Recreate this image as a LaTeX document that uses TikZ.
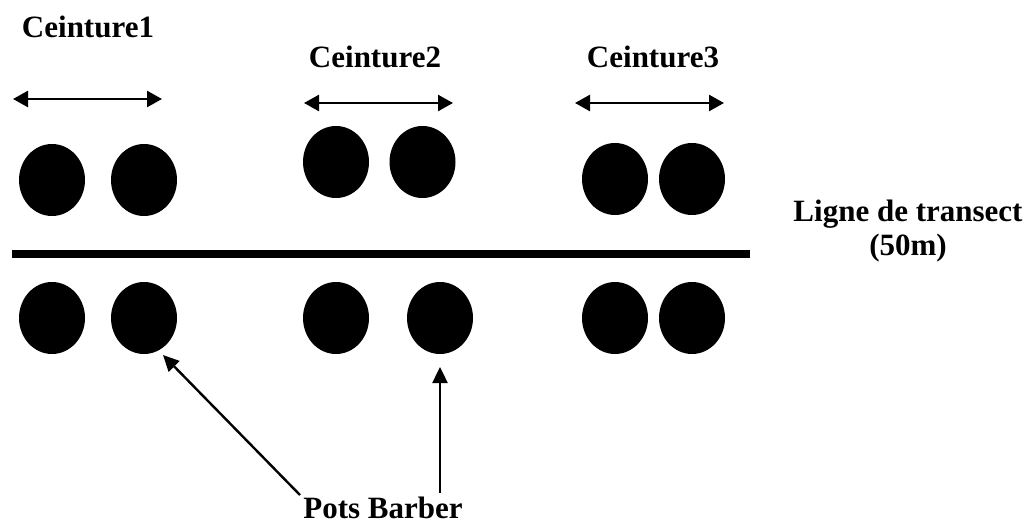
\documentclass[tikz,border=0pt]{standalone}
\usepackage{fontspec}
\setmainfont{Liberation Serif}
\usetikzlibrary{arrows.meta,shapes.geometric}
\begin{document}
\begin{tikzpicture}[x=1pt,y=-1pt,
  pot/.style={ellipse,fill=black,minimum width=66pt,minimum height=72pt,inner sep=0pt},
  lbl/.style={font=\fontsize{31}{34}\selectfont\bfseries,inner sep=0pt,align=center},
  span/.style={line width=2.5pt,{Triangle[length=15pt,width=16pt]}-{Triangle[length=15pt,width=16pt]}},
  ptr/.style={line width=2.4pt,-{Triangle[length=16pt,width=15pt]}}]
\useasboundingbox (0,0) rectangle (1031,524);
% labels
\node[lbl] (c1) at (88,27) {Ceinture1};
\node[lbl] (c2) at (375,57) {Ceinture2};
\node[lbl] (c3) at (653,57) {Ceinture3};
\node[lbl] (lt) at (908,231) {Ligne de transect\\(50m)};
\node[lbl] (pb) at (383,508) {Pots Barber};
% span arrows
\coordinate (a1l) at (13,99); \coordinate (a1r) at (162,99);
\coordinate (a2l) at (304,103); \coordinate (a2r) at (453,103);
\coordinate (a3l) at (575,103); \coordinate (a3r) at (724,103);
\draw[span] (a1l) -- (a1r);
\draw[span] (a2l) -- (a2r);
\draw[span] (a3l) -- (a3r);
% transect line
\coordinate (tl) at (12,253.5); \coordinate (tr) at (750,253.5);
\draw[line width=8pt] (tl) -- (tr);
% pots top
\node[pot] (t11) at (52,180) {};
\node[pot] (t12) at (144,180) {};
\node[pot] (t21) at (336,162) {};
\node[pot] (t22) at (422.5,162) {};
\node[pot] (t31) at (615,179) {};
\node[pot] (t32) at (692,179) {};
% pots bottom
\node[pot] (b11) at (52,318) {};
\node[pot] (b12) at (144,318) {};
\node[pot] (b21) at (336,318) {};
\node[pot] (b22) at (440,318) {};
\node[pot] (b31) at (615,318) {};
\node[pot] (b32) at (692,318) {};
% pointers
\coordinate (p1) at (163,355); \coordinate (p2) at (440,367);
\coordinate (pt1) at (300,495); \coordinate (pt2) at (440,493);
\draw[ptr] (pt1) -- (p1);
\draw[ptr] (pt2) -- (p2);
\end{tikzpicture}
\end{document}
